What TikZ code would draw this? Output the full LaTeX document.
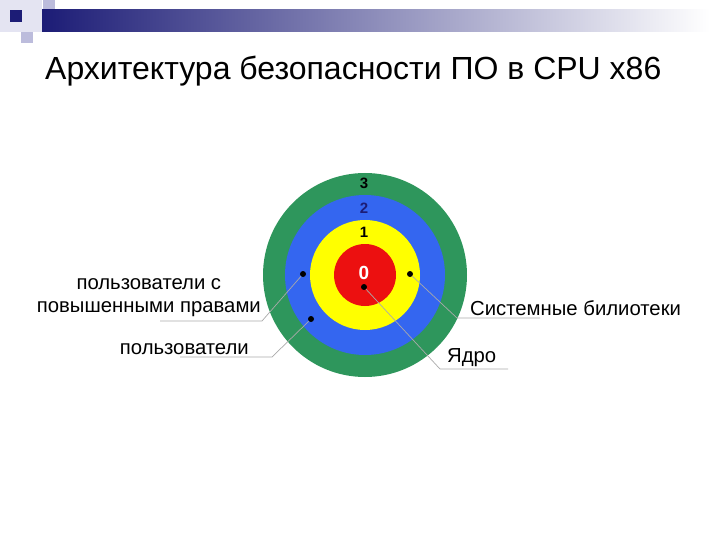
\documentclass[tikz,border=0pt]{standalone}
\usepackage{fontspec}
\setmainfont{Liberation Sans}
\usetikzlibrary{positioning}

\definecolor{navy}{RGB}{28,28,118}
\definecolor{sqlight}{RGB}{228,228,242}
\definecolor{sqmid}{RGB}{188,188,220}
\definecolor{ringgreen}{RGB}{46,150,92}
\definecolor{ringblue}{RGB}{52,102,240}
\definecolor{ringyellow}{RGB}{255,255,0}
\definecolor{ringred}{RGB}{236,16,16}
\definecolor{leadgray}{RGB}{170,170,170}

\begin{document}
\begin{tikzpicture}[x=1pt,y=-1pt,
  ring/.style={circle,inner sep=0pt,draw=none},
  dot/.style={circle,fill=black,inner sep=0pt,minimum size=6pt},
  num/.style={font=\fontsize{15}{17}\selectfont\bfseries},
  lead/.style={draw=leadgray,line width=0.7pt},
  lbl/.style={font=\fontsize{20.3}{23}\selectfont,inner sep=0pt}]
  \useasboundingbox (0,0) rectangle (720,540);
  % header
  \fill[sqlight] (0,0) rectangle (42,32);
  \fill[sqmid] (43,0) rectangle (55,20);
  \fill[sqmid] (21,32) rectangle (33,43);
  \shade[left color=navy,right color=white] (42,10) rectangle (710,32);
  \fill[navy] (10,10) rectangle (22,22);
  \node[anchor=base west,font=\fontsize{32}{36}\selectfont,inner sep=0pt] (title) at (45,80)
    {Архитектура безопасности ПО в CPU x86};

  % rings
  \node[ring,fill=ringgreen,minimum size=204pt] (r3) at (365,275) {};
  \node[ring,fill=ringblue,minimum size=160pt] (r2) at (r3) {};
  \node[ring,fill=ringyellow,minimum size=110pt] (r1) at (r3) {};
  \node[ring,fill=ringred,minimum size=62pt] (r0) at (r3) {};
  \node[num] (n3) at (364,183) {3};
  \node[num,text=navy] (n2) at (364,208) {2};
  \node[num] (n1) at (364,232) {1};
  \node[num,text=white,font=\fontsize{19}{22}\selectfont\bfseries] (n0) at (364,273) {0};

  % dots
  \node[dot] (d_priv) at (303,274) {};
  \node[dot] (d_user) at (311,319) {};
  \node[dot] (d_lib) at (410,274) {};
  \node[dot] (d_core) at (364,287) {};

  % labels
  \node[lbl,align=center,anchor=south east] (t_priv) at (261,317)
    {пользователи с\\повышенными правами};
  \node[lbl,anchor=south east] (t_user) at (249,355) {пользователи};
  \node[lbl,anchor=south west] (t_lib) at (470,316) {Системные билиотеки};
  \node[lbl,anchor=south west] (t_core) at (447,367) {Ядро};

  % leaders
  \coordinate (k_priv) at (262,321);
  \coordinate (e_priv) at (160,321);
  \coordinate (k_user) at (272,357);
  \coordinate (e_user) at (180,357);
  \coordinate (k_lib) at (457,318);
  \coordinate (e_lib) at (540,318);
  \coordinate (k_core) at (440,369);
  \coordinate (e_core) at (508,369);
  \draw[lead] (d_priv) -- (k_priv) -- (e_priv);
  \draw[lead] (d_user) -- (k_user) -- (e_user);
  \draw[lead] (d_lib) -- (k_lib) -- (e_lib);
  \draw[lead] (d_core) -- (k_core) -- (e_core);
\end{tikzpicture}
\end{document}
